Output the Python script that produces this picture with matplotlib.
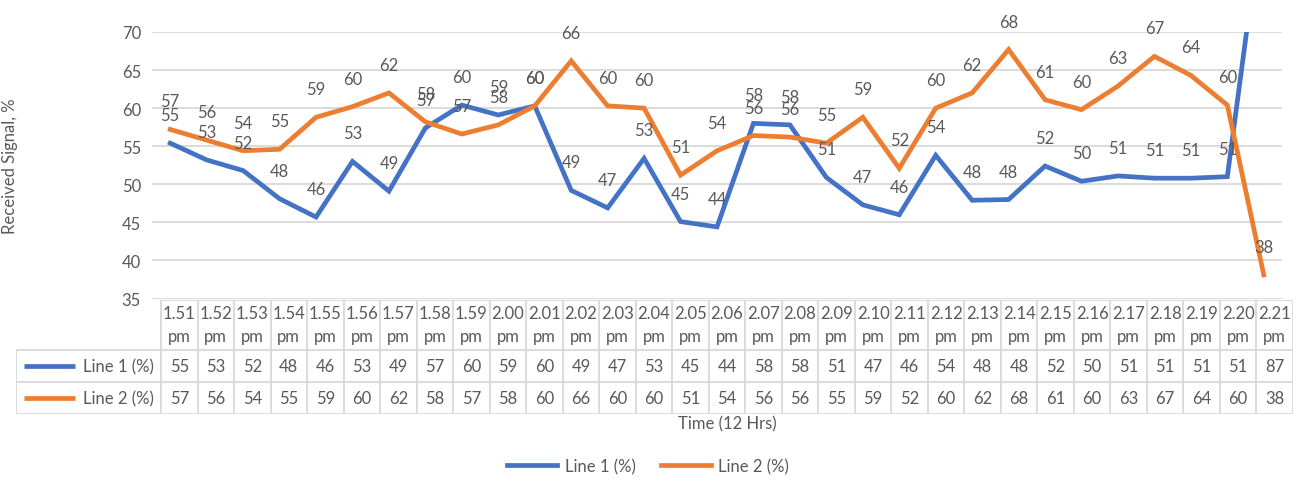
import matplotlib
matplotlib.use("Agg")
import matplotlib.pyplot as plt
from matplotlib.lines import Line2D

# time stamps (12 hr clock) and signal readings for both lines
times = ["1.51", "1.52", "1.53", "1.54", "1.55", "1.56", "1.57", "1.58", "1.59",
         "2.00", "2.01", "2.02", "2.03", "2.04", "2.05", "2.06", "2.07", "2.08",
         "2.09", "2.10", "2.11", "2.12", "2.13", "2.14", "2.15", "2.16", "2.17",
         "2.18", "2.19", "2.20", "2.21"]
line1 = [55.4, 53.2, 51.8, 48.1, 45.7, 53.0, 49.1, 57.4, 60.4, 59.1, 60.3,
         49.2, 46.9, 53.4, 45.1, 44.4, 58.0, 57.8, 50.9, 47.3, 46.0, 53.8,
         47.9, 48.0, 52.4, 50.4, 51.1, 50.8, 50.8, 51.0, 87.0]
line2 = [57.2, 55.8, 54.4, 54.6, 58.8, 60.2, 62.0, 58.2, 56.6, 57.8, 60.3,
         66.2, 60.3, 60.0, 51.2, 54.4, 56.4, 56.2, 55.4, 58.8, 52.1, 60.0,
         62.0, 67.7, 61.1, 59.8, 62.9, 66.8, 64.3, 60.4, 38.1]
series = [("Line 1 (%)", line1, "#4472C4"), ("Line 2 (%)", line2, "#ED7D31")]

plt.rcParams["font.family"] = ["Lato", "DejaVu Sans"]
FS = 12
TXT = "#595959"
GRID = "#D9D9D9"

W, H = 1296, 485
fig = plt.figure(figsize=(W / 100, H / 100), dpi=100)

# main line chart
ax = fig.add_axes([152 / W, 1 - 299.5 / H, (1282 - 152) / W, (299.5 - 33) / H])
x = list(range(len(times)))
for name, vals, col in series:
    ax.plot(x, vals, color=col, lw=3.4, solid_joinstyle="miter", zorder=3)
    for xi, v in zip(x, vals):
        if v <= 70:
            ax.annotate(f"{round(v)}", (xi, v), xytext=(0, 28), textcoords="offset pixels",
                        ha="center", va="center", fontsize=FS, color=TXT, zorder=4)

ax.set_xlim(-0.5, len(times) - 0.5)
ax.set_ylim(35, 70)
ax.set_yticks(range(35, 71, 5))
ax.set_xticks([])
ax.grid(axis="y", color=GRID, lw=1.3)
ax.set_axisbelow(True)
for s in ax.spines.values():
    s.set_visible(False)
ax.tick_params(axis="y", length=0, pad=8, labelsize=FS, labelcolor=TXT)
ax.set_ylabel("Received Signal, %", fontsize=FS, color=TXT)
ax.yaxis.set_label_coords(-(152 - 18) / (1282 - 152), 0.5)

# data table under the chart
cw = (1293 - 161) / len(times)
lab_w = (161 - 16) / cw
tax = fig.add_axes([16 / W, 1 - 415 / H, (1293 - 16) / W, (415 - 300.7) / H])
tax.set_xlim(-0.5 - lab_w, len(times) - 0.5)
tax.set_ylim(114.3, 0)
tax.axis("off")

rows = [0, 50.3, 82.3, 114.3]
tax.plot([-0.5, len(times) - 0.5], [0, 0], color=GRID, lw=1.3)
for r in rows[1:]:
    tax.plot([-0.5 - lab_w, len(times) - 0.5], [r, r], color=GRID, lw=1.3)
tax.plot([-0.5 - lab_w] * 2, [rows[1], rows[3]], color=GRID, lw=1.3)
for k in range(len(times) + 1):
    tax.plot([k - 0.5] * 2, [0, rows[3]], color=GRID, lw=1.3)

for i, t in enumerate(times):
    tax.text(i, 13, t, ha="center", va="center", fontsize=FS, color=TXT)
    tax.text(i, 36, "pm", ha="center", va="center", fontsize=FS, color=TXT)

for (name, vals, col), y0, y1 in zip(series, rows[1:3], rows[2:4]):
    yc = (y0 + y1) / 2
    hx0 = -0.5 - lab_w + 8 / cw
    tax.plot([hx0, hx0 + 51 / cw], [yc, yc], color=col, lw=3.4, solid_capstyle="butt")
    tax.text(hx0 + 59 / cw, yc, name, ha="left", va="center", fontsize=FS, color=TXT)
    for i, v in enumerate(vals):
        tax.text(i, yc, f"{round(v)}", ha="center", va="center", fontsize=FS, color=TXT)

fig.text(727 / W, 1 - 424 / H, "Time (12 Hrs)", ha="center", va="center",
         fontsize=FS, color=TXT)

handles = [Line2D([], [], color=c, lw=3.4) for _, _, c in series]
fig.legend(handles, [n for n, _, _ in series], loc="center", bbox_to_anchor=(0.5, 1 - 467 / H),
           ncol=2, frameon=False, fontsize=FS, labelcolor=TXT, handlelength=3.0,
           handletextpad=0.45, columnspacing=1.5)

fig.savefig("out.png", dpi=100)
